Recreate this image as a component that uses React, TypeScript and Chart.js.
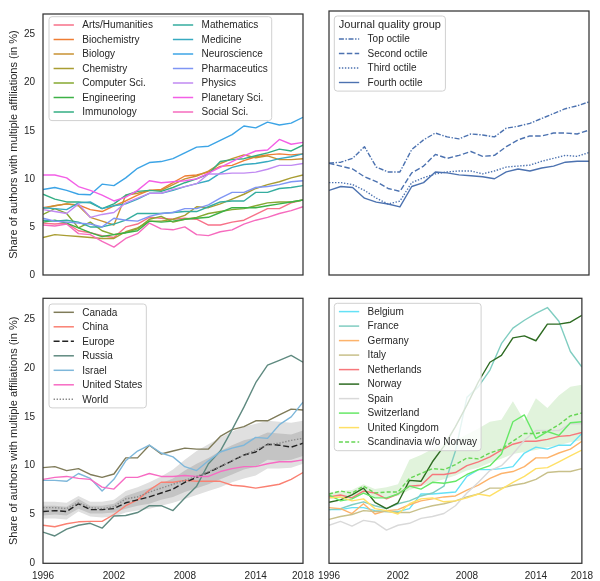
import React, { useEffect, useRef } from 'react';
import { Chart, registerables } from 'chart.js';
Chart.register(...registerables);

const years = [1996, 1997, 1998, 1999, 2000, 2001, 2002, 2003, 2004, 2005, 2006, 2007, 2008, 2009, 2010, 2011, 2012, 2013, 2014, 2015, 2016, 2017, 2018];
const xTickValues = [1996, 2002, 2008, 2014, 2018];
const xTickLabels = ['1996', '2002', '2008', '2014', '2018'];
const yTickValues = [0, 5, 10, 15, 20, 25];
const yTickLabels = ['0', '5', '10', '15', '20', '25'];
const yTitle = 'Share of authors with multiple affiliations (in %)';

// Top-left: fields
const artsHumanities = [5.4, 5.3, 5.4, 4.6, 4.4, 4.1, 3.9, 5.0, 5.3, 6.0, 5.9, 5.8, 5.9, 5.8, 5.2, 5.2, 5.5, 5.7, 6.3, 6.9, 6.9, 7.5, 7.8];
const biochemistry = [7.0, 7.2, 7.4, 7.3, 6.8, 6.6, 7.2, 7.7, 8.3, 8.8, 8.9, 9.6, 10.3, 10.4, 10.7, 11.3, 11.4, 11.9, 12.3, 12.5, 12.6, 12.5, 12.6];
const biology = [6.9, 7.2, 7.4, 7.2, 6.0, 5.6, 5.2, 8.3, 8.5, 8.8, 8.8, 9.4, 10.0, 10.3, 10.8, 11.6, 12.1, 12.5, 12.2, 12.4, 12.0, 12.0, 12.1];
const chemistry = [3.9, 4.2, 4.1, 4.0, 3.9, 3.8, 3.8, 4.5, 4.9, 5.6, 5.6, 5.8, 6.2, 7.1, 7.0, 7.4, 7.9, 8.4, 9.0, 9.4, 9.7, 10.1, 10.4];
const computerSci = [6.3, 6.9, 6.4, 4.9, 5.5, 4.6, 4.2, 4.4, 4.8, 5.8, 6.1, 5.5, 5.8, 6.0, 6.4, 6.6, 6.8, 6.9, 7.2, 7.5, 7.6, 7.6, 7.8];
const engineering = [5.5, 5.7, 5.4, 4.9, 4.4, 4.0, 4.2, 4.4, 4.6, 5.6, 5.5, 5.6, 5.8, 5.9, 6.0, 6.5, 7.0, 7.0, 7.0, 7.2, 7.4, 7.6, 7.8];
const immunology = [8.4, 7.9, 7.6, 7.6, 7.5, 6.9, 7.4, 8.3, 8.7, 8.8, 8.7, 9.1, 9.6, 10.0, 10.5, 11.8, 12.0, 12.1, 12.4, 12.7, 13.1, 12.9, 13.5];
const mathematics = [5.7, 5.6, 5.7, 5.5, 5.0, 5.0, 5.3, 5.7, 6.4, 6.4, 6.4, 6.5, 6.6, 6.6, 7.1, 7.6, 7.7, 7.7, 8.6, 8.6, 9.0, 9.1, 9.3];
const medicine = [7.0, 6.9, 6.8, 7.5, 7.6, 6.9, 7.2, 7.4, 7.9, 8.5, 8.5, 8.8, 9.2, 9.5, 9.8, 10.6, 11.2, 11.5, 11.6, 11.8, 12.1, 12.3, 12.6];
const neuroscience = [8.9, 9.1, 8.8, 8.4, 8.35, 9.45, 9.3, 10.1, 11.1, 11.7, 11.8, 12.1, 12.7, 13.3, 13.4, 14.0, 14.6, 15.5, 15.3, 15.9, 15.6, 15.8, 16.4];
const pharmaceutics = [5.9, 5.6, 5.5, 5.4, 5.3, 5.0, 5.9, 5.7, 5.6, 6.1, 6.4, 6.5, 6.9, 6.9, 7.3, 8.0, 8.6, 8.6, 9.1, 9.2, 9.4, 9.7, 9.8];
const physics = [6.8, 6.6, 6.4, 7.4, 6.0, 6.3, 6.5, 7.5, 8.0, 8.5, 8.5, 8.9, 9.2, 9.5, 10.5, 10.5, 10.6, 10.6, 10.7, 11.0, 11.4, 11.4, 11.6];
const planetarySci = [10.4, 10.4, 10.1, 9.2, 8.8, 8.3, 7.7, 8.1, 8.8, 9.8, 9.6, 9.7, 9.8, 10.0, 10.6, 11.2, 11.8, 12.4, 12.9, 13.0, 14.1, 13.6, 13.8];
const socialSci = [5.2, 5.1, 5.3, 4.3, 4.2, 3.5, 2.9, 3.8, 4.3, 5.4, 4.8, 4.7, 5.0, 4.2, 4.1, 4.5, 4.7, 5.3, 5.7, 6.0, 6.4, 6.7, 7.1];

// Top-right: journal quality
const topOctile = [11.5, 11.6, 12.0, 13.2, 11.1, 10.6, 10.6, 12.9, 13.9, 14.6, 14.2, 14.0, 14.5, 14.4, 14.2, 15.1, 15.3, 15.6, 16.1, 16.6, 17.1, 17.4, 17.8];
const secondOctile = [11.5, 11.2, 10.9, 10.1, 9.6, 8.9, 8.6, 10.5, 11.2, 12.4, 12.0, 12.3, 12.7, 12.2, 12.3, 13.2, 13.9, 14.3, 14.3, 14.6, 14.6, 14.5, 14.9];
const thirdOctile = [9.5, 9.5, 9.3, 8.7, 7.9, 7.3, 7.6, 9.5, 10.0, 10.4, 10.6, 10.7, 10.7, 10.4, 10.7, 11.1, 11.2, 11.3, 11.7, 12.0, 12.3, 12.2, 12.6];
const fourthOctile = [8.7, 9.1, 9.0, 7.9, 7.5, 7.3, 7.0, 9.1, 9.5, 10.6, 10.5, 10.3, 10.2, 10.1, 9.9, 10.6, 10.9, 10.7, 11.0, 11.2, 11.6, 11.7, 11.7];

// Bottom-left: regions
const canada = [9.8, 9.9, 9.5, 9.7, 9.1, 8.8, 9.15, 10.8, 10.8, 12.1, 11.2, 11.5, 11.8, 11.7, 11.7, 13.0, 13.7, 14.0, 14.6, 14.6, 15.2, 15.8, 15.7];
const china = [3.9, 3.75, 4.05, 4.25, 4.3, 4.3, 5.0, 5.9, 6.5, 7.5, 8.3, 8.3, 8.5, 8.4, 8.4, 8.4, 8.0, 7.9, 7.7, 7.9, 8.1, 8.6, 9.3];
const europe = [5.3, 5.4, 5.3, 6.1, 5.5, 5.5, 5.6, 6.2, 6.5, 6.8, 7.2, 7.6, 8.3, 8.8, 9.3, 9.9, 10.5, 11.1, 11.4, 12.2, 12.1, 11.9, 12.3];
const russia = [3.2, 2.8, 3.5, 3.9, 4.1, 3.6, 4.85, 4.9, 5.2, 5.9, 5.9, 5.4, 6.7, 7.9, 10.2, 11.5, 13.7, 16.0, 18.5, 20.3, 20.8, 21.3, 20.6];
const israel = [8.5, 8.5, 8.4, 9.2, 8.7, 7.4, 8.6, 10.5, 11.5, 12.1, 11.3, 10.9, 9.9, 9.5, 10.5, 11.4, 11.8, 12.1, 12.9, 12.8, 14.2, 15.0, 16.5];
const unitedStates = [8.6, 8.8, 8.9, 8.7, 8.6, 7.8, 7.6, 8.8, 8.8, 9.2, 8.9, 8.9, 9.0, 8.9, 8.9, 9.4, 9.7, 9.9, 9.9, 10.2, 10.4, 10.4, 10.6];
const world = [5.7, 5.7, 5.6, 6.2, 5.7, 5.6, 5.8, 6.6, 6.8, 7.3, 7.7, 8.1, 8.5, 8.9, 9.4, 9.9, 10.5, 11.1, 11.6, 12.2, 12.3, 12.6, 12.8];
const europeOuterUpper = [6.3, 6.3, 6.2, 6.9, 6.3, 6.3, 6.5, 7.4, 7.8, 8.3, 8.9, 9.6, 10.6, 11.5, 12.2, 12.9, 13.5, 14.0, 14.3, 14.6, 14.5, 14.4, 14.6];
const europeInnerUpper = [5.9, 5.9, 5.8, 6.6, 5.9, 5.9, 6.1, 6.9, 7.3, 7.7, 8.2, 8.7, 9.5, 10.2, 10.8, 11.5, 12.1, 12.6, 12.9, 13.4, 13.3, 13.2, 13.6];
const europeInnerLower = [4.9, 5.0, 4.9, 5.6, 5.1, 5.1, 5.2, 5.6, 5.9, 6.1, 6.5, 6.8, 7.3, 7.7, 8.1, 8.6, 9.1, 9.6, 9.9, 10.6, 10.5, 10.6, 11.0];
const europeOuterLower = [4.6, 4.6, 4.5, 5.3, 4.8, 4.7, 4.8, 5.2, 5.4, 5.6, 5.9, 6.2, 6.6, 7.0, 7.4, 7.8, 8.3, 8.7, 9.0, 9.7, 9.7, 9.8, 10.2];

// Bottom-right: European countries
const belgium = [5.5, 5.5, 5.7, 5.7, 5.4, 5.3, 5.3, 5.6, 7.1, 7.1, 7.2, 7.3, 8.9, 9.6, 9.6, 9.7, 9.9, 11.3, 11.9, 11.7, 12.1, 12.1, 13.3];
const france = [5.5, 5.6, 6.0, 6.3, 5.9, 5.6, 6.1, 6.4, 6.9, 7.2, 7.9, 11.5, 17.0, 18.1, 19.8, 22.5, 24.1, 24.9, 25.6, 26.2, 24.8, 21.7, 20.1];
const germany = [5.7, 5.6, 5.1, 6.1, 5.05, 5.4, 5.5, 6.0, 6.4, 6.6, 6.8, 6.9, 7.5, 8.0, 8.7, 9.2, 9.4, 9.9, 10.8, 10.8, 11.3, 11.7, 12.5];
const italy = [4.5, 4.8, 5.0, 5.4, 5.3, 5.3, 5.2, 5.2, 5.6, 5.9, 6.1, 6.4, 6.8, 7.1, 7.7, 7.7, 8.0, 8.2, 8.6, 9.3, 9.4, 9.4, 9.7];
const netherlands = [6.8, 7.0, 6.7, 7.4, 7.2, 6.6, 7.1, 7.9, 8.0, 9.1, 9.1, 9.3, 10.0, 10.4, 10.9, 11.6, 12.2, 12.5, 12.5, 12.7, 13.0, 13.1, 13.4];
const norway = [6.25, 6.5, 7.0, 7.7, 6.25, 5.6, 6.2, 8.5, 8.4, 10.4, 12.0, 14.0, 16.2, 18.6, 20.6, 21.3, 23.1, 23.3, 22.8, 24.5, 24.5, 24.7, 25.4];
const spain = [3.9, 4.3, 3.8, 4.4, 4.2, 3.4, 3.9, 4.1, 4.6, 4.8, 5.1, 5.9, 7.2, 8.3, 9.5, 10.0, 11.2, 12.6, 13.6, 13.6, 13.6, 14.3, 14.3];
const switzerland = [7.0, 6.4, 6.6, 7.2, 6.7, 6.7, 7.1, 7.9, 7.6, 8.3, 8.2, 8.4, 9.1, 9.6, 10.0, 11.2, 14.5, 15.2, 12.8, 13.5, 13.1, 14.4, 14.5];
const unitedKingdom = [6.7, 6.8, 6.4, 6.6, 5.6, 5.4, 5.05, 6.1, 6.6, 6.7, 6.3, 6.4, 6.7, 7.1, 6.9, 7.6, 8.3, 8.9, 9.7, 9.8, 10.4, 11.0, 11.6];
const scandinavia = [7.1, 7.4, 7.2, 7.9, 7.2, 7.3, 7.3, 8.7, 9.2, 9.7, 9.6, 10.1, 10.8, 10.7, 11.3, 11.7, 12.5, 13.3, 13.3, 13.5, 14.2, 15.1, 15.4];
const scandinaviaUpper = [7.2, 7.4, 7.5, 8.1, 7.6, 7.8, 8.1, 10.6, 11.1, 11.7, 12.2, 12.6, 13.2, 13.8, 14.5, 14.7, 16.6, 14.6, 16.9, 15.9, 17.2, 18.1, 18.3];
const scandinaviaLower = [6.6, 6.7, 6.7, 7.2, 6.8, 6.8, 6.9, 7.5, 7.9, 8.3, 8.6, 9.0, 9.5, 9.8, 10.3, 10.7, 11.2, 11.4, 11.6, 11.9, 12.1, 12.4, 12.6];

type Series = { label: string; values: number[]; color: string; dash?: number[]; width?: number };
type Band = { upper: number[]; lower: number[]; color: string };
type LegendDef = { x: number; y: number; cols: number; title?: string };
type PanelDef = { rect: number[]; showX: boolean; showY: boolean; series: Series[]; bands: Band[]; legend: LegendDef };

const FONT = '"Liberation Sans", Arial, Helvetica, sans-serif';
const TEXT = '#262626';

const panels: PanelDef[] = [
  {
    rect: [43, 11, 303, 275], showX: false, showY: true, bands: [],
    legend: { x: 49, y: 16.7, cols: 2 },
    series: [
      { label: 'Arts/Humanities', values: artsHumanities, color: '#f77189' },
      { label: 'Biochemistry', values: biochemistry, color: '#ef7d33' },
      { label: 'Biology', values: biology, color: '#c99232' },
      { label: 'Chemistry', values: chemistry, color: '#a99d32' },
      { label: 'Computer Sci.', values: computerSci, color: '#86a831' },
      { label: 'Engineering', values: engineering, color: '#3db146' },
      { label: 'Immunology', values: immunology, color: '#33ae83' },
      { label: 'Mathematics', values: mathematics, color: '#35ad9f' },
      { label: 'Medicine', values: medicine, color: '#37aac0' },
      { label: 'Neuroscience', values: neuroscience, color: '#3ca4e6' },
      { label: 'Pharmaceutics', values: pharmaceutics, color: '#7f95f4' },
      { label: 'Physics', values: physics, color: '#c18af2' },
      { label: 'Planetary Sci.', values: planetarySci, color: '#f35fe6' },
      { label: 'Social Sci.', values: socialSci, color: '#f66bbe' },
    ],
  },
  {
    rect: [329, 11, 589, 275], showX: false, showY: false, bands: [],
    legend: { x: 334.3, y: 16, cols: 1, title: 'Journal quality group' },
    series: [
      { label: 'Top octile', values: topOctile, color: '#4c72b0', dash: [5, 1.6, 1.4, 1.6], width: 1.4 },
      { label: 'Second octile', values: secondOctile, color: '#4c72b0', dash: [5.5, 2.4], width: 1.4 },
      { label: 'Third octile', values: thirdOctile, color: '#4c72b0', dash: [1.4, 1.6], width: 1.4 },
      { label: 'Fourth octile', values: fourthOctile, color: '#4c72b0', width: 1.4 },
    ],
  },
  {
    rect: [43, 298.3, 303, 563.3], showX: true, showY: true,
    bands: [
      { upper: europeInnerUpper, lower: europeInnerLower, color: '#c4c4c4' },
      { upper: europeOuterUpper, lower: europeOuterLower, color: '#e0e0e0' },
    ],
    legend: { x: 49, y: 304, cols: 1 },
    series: [
      { label: 'Canada', values: canada, color: '#7f7b59' },
      { label: 'China', values: china, color: '#fa8072' },
      { label: 'Europe', values: europe, color: '#222222', dash: [6, 2.6], width: 1.4 },
      { label: 'Russia', values: russia, color: '#5f8a80' },
      { label: 'Israel', values: israel, color: '#7eb7da' },
      { label: 'United States', values: unitedStates, color: '#f76bc3' },
      { label: 'World', values: world, color: '#8a8a8a', dash: [1.4, 1.6], width: 1.4 },
    ],
  },
  {
    rect: [329, 298.3, 589, 563.3], showX: true, showY: false,
    bands: [{ upper: scandinaviaUpper, lower: scandinaviaLower, color: '#e1f3dc' }],
    legend: { x: 334.3, y: 303.3, cols: 1 },
    series: [
      { label: 'Belgium', values: belgium, color: '#64e1f6' },
      { label: 'France', values: france, color: '#80cdc1' },
      { label: 'Germany', values: germany, color: '#fdb36b' },
      { label: 'Italy', values: italy, color: '#c8c08a' },
      { label: 'Netherlands', values: netherlands, color: '#f7777b' },
      { label: 'Norway', values: norway, color: '#2e6b22' },
      { label: 'Spain', values: spain, color: '#d9d9d9' },
      { label: 'Switzerland', values: switzerland, color: '#66e866' },
      { label: 'United Kingdom', values: unitedKingdom, color: '#ffe066' },
      { label: 'Scandinavia w/o Norway', values: scandinavia, color: '#66d654', dash: [4, 2.2] },
    ],
  },
];

const W = 600;
const H = 581;
const Y_AXIS_W = 43;
const X_AXIS_H = 18;

function pts(values: number[]) {
  return years.map((yr, i) => ({ x: yr, y: values[i] }));
}

function makeLegendPlugin(def: PanelDef) {
  return {
    id: 'boxLegend',
    afterDraw(chart: any) {
      const ctx = chart.ctx as CanvasRenderingContext2D;
      const lg = def.legend;
      const fs = 10;
      const rowH = 14.5;
      const padL = 4.6;
      const lineLen = 20.3;
      const gap = 8.4;
      const colSep = 20;
      const padR = 4;
      ctx.save();
      ctx.font = `${fs}px ${FONT}`;
      const n = def.series.length;
      const perCol = Math.ceil(n / lg.cols);
      const colW: number[] = [];
      for (let c = 0; c < lg.cols; c++) {
        let m = 0;
        for (let r = 0; r < perCol; r++) {
          const s = def.series[c * perCol + r];
          if (s) m = Math.max(m, ctx.measureText(s.label).width);
        }
        colW.push(m);
      }
      let itemsW = padL + padR;
      colW.forEach((w, i) => { itemsW += lineLen + gap + w + (i > 0 ? colSep : 0); });
      let boxW = itemsW;
      const titleFont = `11px ${FONT}`;
      if (lg.title) {
        ctx.font = titleFont;
        boxW = Math.max(boxW, ctx.measureText(lg.title).width + 9);
        ctx.font = `${fs}px ${FONT}`;
      }
      const titleExtra = lg.title ? 14.7 : 0;
      const boxH = 8.3 + titleExtra + (perCol - 1) * rowH + 8.6;
      const bx = lg.x;
      const by = lg.y;
      ctx.beginPath();
      const rad = 3;
      ctx.moveTo(bx + rad, by);
      ctx.lineTo(bx + boxW - rad, by);
      ctx.arcTo(bx + boxW, by, bx + boxW, by + rad, rad);
      ctx.lineTo(bx + boxW, by + boxH - rad);
      ctx.arcTo(bx + boxW, by + boxH, bx + boxW - rad, by + boxH, rad);
      ctx.lineTo(bx + rad, by + boxH);
      ctx.arcTo(bx, by + boxH, bx, by + boxH - rad, rad);
      ctx.lineTo(bx, by + rad);
      ctx.arcTo(bx, by, bx + rad, by, rad);
      ctx.closePath();
      ctx.fillStyle = 'rgba(255,255,255,0.8)';
      ctx.fill();
      ctx.strokeStyle = '#d0d0d0';
      ctx.lineWidth = 1;
      ctx.stroke();
      ctx.textBaseline = 'middle';
      ctx.fillStyle = TEXT;
      if (lg.title) {
        ctx.font = titleFont;
        ctx.textAlign = 'center';
        ctx.fillText(lg.title, bx + boxW / 2, by + 9.3);
        ctx.font = `${fs}px ${FONT}`;
      }
      ctx.textAlign = 'left';
      let cx = bx + padL;
      for (let c = 0; c < lg.cols; c++) {
        for (let r = 0; r < perCol; r++) {
          const s = def.series[c * perCol + r];
          if (!s) continue;
          const cy = by + 8.3 + titleExtra + r * rowH;
          ctx.beginPath();
          ctx.strokeStyle = s.color;
          ctx.lineWidth = s.width ?? 1.5;
          ctx.setLineDash(s.dash ?? []);
          ctx.moveTo(cx, cy);
          ctx.lineTo(cx + lineLen, cy);
          ctx.stroke();
          ctx.setLineDash([]);
          ctx.fillStyle = TEXT;
          ctx.fillText(s.label, cx + lineLen + gap, cy + 0.5);
        }
        cx += lineLen + gap + colW[c] + colSep;
      }
      ctx.restore();
    },
  };
}

const framePlugin = {
  id: 'frame',
  afterDatasetsDraw(chart: any) {
    const { left, top, right, bottom } = chart.chartArea;
    const ctx = chart.ctx as CanvasRenderingContext2D;
    ctx.save();
    ctx.strokeStyle = '#333333';
    ctx.lineWidth = 1.25;
    ctx.strokeRect(left, top, right - left, bottom - top);
    ctx.restore();
  },
};

function Panel({ def }: { def: PanelDef }) {
  const ref = useRef<HTMLCanvasElement>(null);
  useEffect(() => {
    if (!ref.current) return;
    const [l, t, r, b] = def.rect;
    const datasets: any[] = [];
    def.bands.forEach((bd, i) => {
      datasets.push({
        data: pts(bd.upper), borderColor: 'rgba(0,0,0,0)', borderWidth: 0, pointRadius: 0,
        backgroundColor: bd.color, fill: '+1', order: 1000 + i, tension: 0,
      });
      datasets.push({
        data: pts(bd.lower), borderColor: 'rgba(0,0,0,0)', borderWidth: 0, pointRadius: 0,
        fill: false, order: 1000 + i, tension: 0,
      });
    });
    const n = def.series.length;
    def.series.forEach((s, i) => {
      datasets.push({
        label: s.label, data: pts(s.values), borderColor: s.color, borderWidth: s.width ?? 1.4,
        borderDash: s.dash ?? [], pointRadius: 0, fill: false, tension: 0, order: n - i,
        borderCapStyle: 'butt', borderJoinStyle: 'round',
      });
    });
    const tickFont = { family: FONT, size: 10 };
    const chart = new Chart(ref.current, {
      type: 'line',
      data: { datasets },
      plugins: [framePlugin, makeLegendPlugin(def)],
      options: {
        animation: false,
        responsive: false,
        devicePixelRatio: 1,
        events: [],
        layout: {
          padding: {
            left: def.showY ? l - Y_AXIS_W : l,
            top: t,
            right: W - r,
            bottom: def.showX ? H - b - X_AXIS_H : H - b,
          },
        },
        plugins: {
          legend: { display: false },
          tooltip: { enabled: false },
          filler: { drawTime: 'beforeDatasetsDraw' },
        },
        scales: {
          x: {
            type: 'linear', min: 1996, max: 2018, display: def.showX,
            grid: { display: false, drawTicks: false },
            border: { display: false },
            ticks: {
              font: tickFont, color: TEXT, padding: 7, maxRotation: 0, autoSkip: false,
              callback: (v: any) => { const k = xTickValues.indexOf(Number(v)); return k >= 0 ? xTickLabels[k] : ''; },
            },
            afterBuildTicks: (s: any) => { s.ticks = xTickValues.map((v) => ({ value: v })); },
            afterFit: def.showX ? (s: any) => { s.height = X_AXIS_H; } : undefined,
          },
          y: {
            type: 'linear', min: 0, max: 27.15, display: def.showY,
            grid: { display: false, drawTicks: false },
            border: { display: false },
            ticks: {
              font: tickFont, color: TEXT, padding: 8,
              callback: (v: any) => { const k = yTickValues.indexOf(Number(v)); return k >= 0 ? yTickLabels[k] : ''; },
            },
            afterBuildTicks: (s: any) => { s.ticks = yTickValues.map((v) => ({ value: v })); },
            afterFit: def.showY ? (s: any) => { s.width = Y_AXIS_W; } : undefined,
            title: { display: true, text: yTitle, font: { family: FONT, size: 11 }, color: TEXT, padding: { top: 7, bottom: 0 } },
          },
        },
      } as any,
    });
    return () => chart.destroy();
  }, [def]);
  return (
    <canvas
      ref={ref}
      width={W}
      height={H}
      style={{ position: 'absolute', left: 0, top: 0, width: W, height: H }}
    />
  );
}

export default function App() {
  return (
    <div style={{ position: 'absolute', left: 0, top: 0, width: W, height: H, background: '#ffffff', overflow: 'hidden' }}>
      {panels.map((p, i) => <Panel key={i} def={p} />)}
    </div>
  );
}
